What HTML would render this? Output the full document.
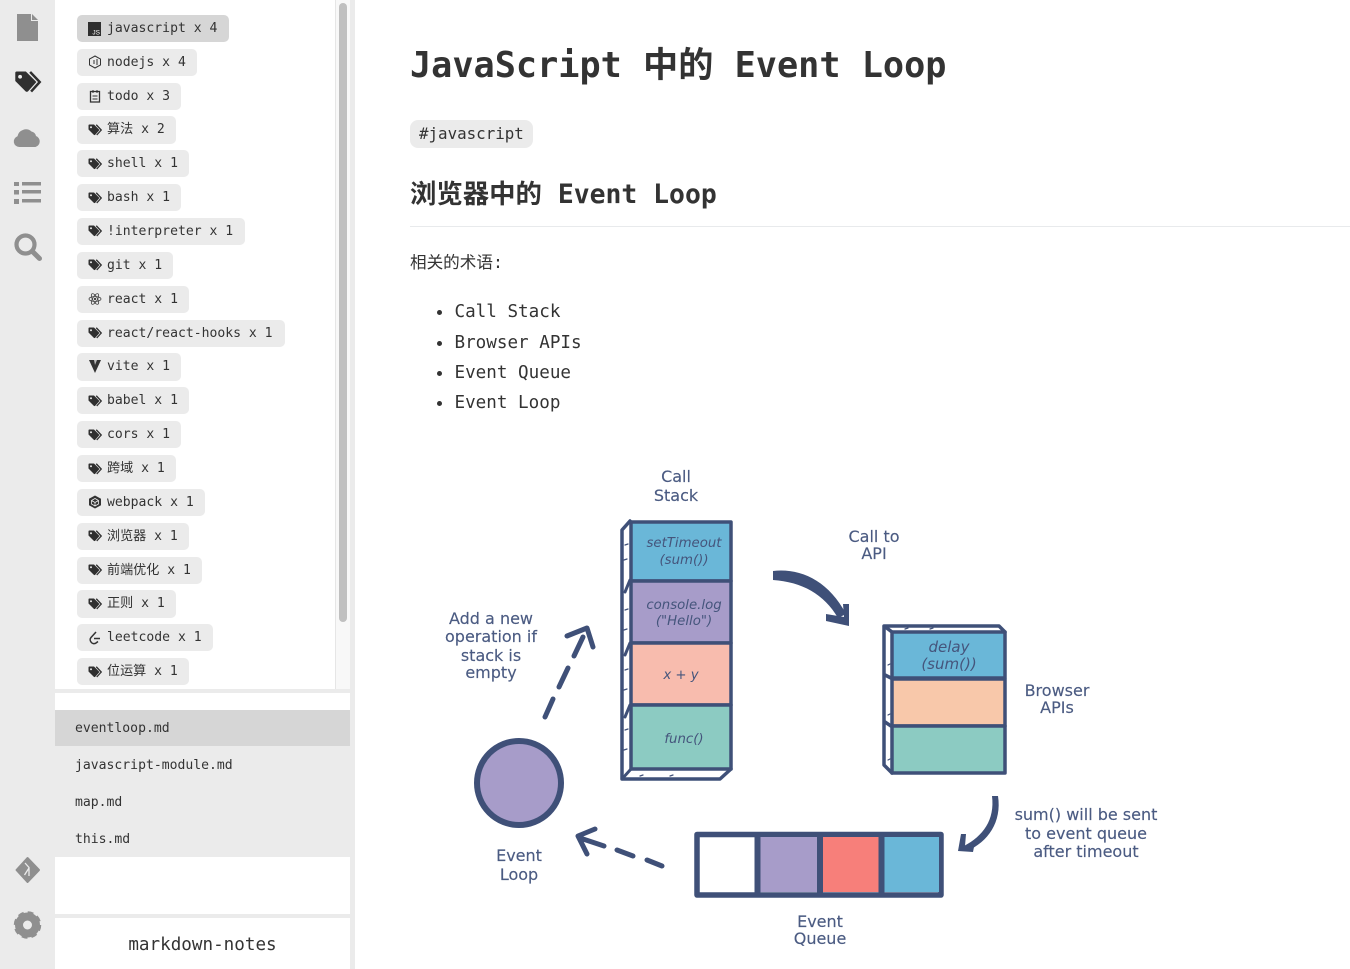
<!DOCTYPE html>
<html lang="zh"><head><meta charset="utf-8"><title>JavaScript 中的 Event Loop</title>
<style>
html,body{margin:0;padding:0;width:1350px;height:969px;overflow:hidden;background:#fff}
*{box-sizing:border-box}
body{font-family:"DejaVu Sans Mono","Noto Sans CJK SC",monospace;color:#333;position:relative}
.a{position:absolute}
.chip{position:absolute;left:77px;height:27px;background:#ebebeb;border-radius:5px;font-size:13.1px;line-height:27.500px;padding-left:30px;white-space:pre;color:#333}
.chip svg{position:absolute;left:11px;top:7px;width:14px;height:14px}
.f{position:absolute;left:75px;font-size:13.1px;line-height:20px;white-space:pre}
.li{position:absolute;left:454.500px;font-size:17.6px;line-height:24px;white-space:pre}
.dot{position:absolute;left:437px;width:5px;height:5px;border-radius:50%;background:#333}
#d{filter:blur(.35px)}
#d text{font-family:"DejaVu Sans",sans-serif;fill:#4b5b82;font-size:16px;text-anchor:middle;stroke:#4b5b82;stroke-width:.15}
#d text.i{font-style:italic;font-size:13.3px;fill:#45557c;stroke-width:0}
</style></head><body>
<svg width="0" height="0" style="position:absolute">
<symbol id="tag" viewBox="0 0 28 24"><path d="M1 2.500Q1 1 2.500 1H12L23 12 14.500 21.500Q13 23 11.500 21.500L1 11z" fill="currentColor"/><circle cx="6" cy="6.500" r="2" fill="#ebebeb"/><path d="M16.500 1.500L26.500 12 17.500 22" fill="none" stroke="currentColor" stroke-width="2.600"/></symbol>
</svg>
<div class="a" style="left:0;top:0;width:55px;height:969px;background:#ebebeb"></div>
<div class="a" style="left:350px;top:0;width:5px;height:969px;background:#ebebeb"></div>
<div class="a" style="left:335px;top:0;width:15px;height:689px;background:#f8f8f8;border-left:1px solid #e6e6e6"></div>
<div class="a" style="left:339px;top:3px;width:8px;height:619px;background:#c0c0c0;border-radius:4px"></div>
<div class="a" style="left:55px;top:689px;width:295px;height:4px;background:#ebebeb"></div>
<div class="a" style="left:55px;top:710px;width:295px;height:36px;background:#d6d6d6"></div>
<div class="a" style="left:55px;top:746px;width:295px;height:111px;background:#ebebeb"></div>
<div class="a" style="left:55px;top:914px;width:295px;height:4px;background:#ebebeb"></div>

<svg class="a" style="left:0;top:0" width="55" height="969">
<path d="M17 14h14v7h7v20H17z" fill="#8f8f8f"/><path d="M32 14l6 6h-6z" fill="#8f8f8f"/>
<g color="#2f2f2f"><use href="#tag" x="14" y="70.500" width="27.500" height="23"/></g>
<path d="M19.500 147a5.500 5.500 0 0 1-2-10.700 8.500 8.500 0 0 1 14-4.800 6 6 0 0 1 4.500 4.500 5.800 5.800 0 0 1-.5 11z" fill="#8f8f8f"/>
<g fill="#8f8f8f"><rect x="14" y="182" width="5" height="4"/><rect x="14" y="190" width="5" height="4.500"/><rect x="14" y="199" width="5" height="5"/><rect x="22" y="182" width="19" height="3.500"/><rect x="22" y="190" width="19" height="3.500"/><rect x="22" y="199" width="19" height="3.500"/></g>
<circle cx="25.500" cy="244.500" r="9" fill="none" stroke="#8f8f8f" stroke-width="4.200"/><path d="M33 252l6.500 6.500" stroke="#8f8f8f" stroke-width="5" stroke-linecap="round"/>
<path d="M27.500 858l11.500 12-11.500 12L16.500 870z" fill="#8f8f8f" stroke="#8f8f8f" stroke-linejoin="round" stroke-width="2"/><path d="M25 863l4 4.500v8.500M29 868l-4.500 7" stroke="#ebebeb" stroke-width="1.300" fill="none"/>
<circle cx="27.500" cy="925" r="8.500" fill="none" stroke="#8f8f8f" stroke-width="8"/><circle cx="27.500" cy="925" r="12" fill="none" stroke="#8f8f8f" stroke-width="3.500" stroke-dasharray="5.500 3.900"/>
</svg>

<div class="chip" style="top:15px;width:152px;background:#d6d6d6"><svg viewBox="0 0 14 14" style="top:7px"><rect width="13" height="14" fill="#2f2f2f"/><text x="12" y="12.500" text-anchor="end" font-size="6.500" fill="#fff" font-family="Liberation Sans">JS</text></svg>javascript x 4</div>
<div class="chip" style="top:49px;width:120px"><svg viewBox="0 0 14 14" style="top:6px"><path d="M7 1l5.500 3v6L7 13l-5.500-3V4z" fill="none" stroke="#333"/><path d="M6 5v4M8 5h2M8 7h2M8 9h2" stroke="#333"/></svg>nodejs x 4</div>
<div class="chip" style="top:83px;width:104px"><svg viewBox="0 0 14 14" style="top:6px"><rect x="2.500" y="2.500" width="9" height="10.500" fill="none" stroke="#333" stroke-width="1.300"/><path d="M5 1v3M9 1v3M4.500 7h5M4.500 10h5" stroke="#333"/></svg>todo x 3</div>
<div class="chip" style="top:116px;width:99px;height:28px"><svg style="color:#2f2f2f;top:7px"><use href="#tag" width="14" height="14"/></svg>算法 x 2</div>
<div class="chip" style="top:150px;width:112px"><svg style="color:#2f2f2f;top:7px"><use href="#tag" width="14" height="14"/></svg>shell x 1</div>
<div class="chip" style="top:184px;width:104px"><svg style="color:#2f2f2f;top:7px"><use href="#tag" width="14" height="14"/></svg>bash x 1</div>
<div class="chip" style="top:218px;width:168px"><svg style="color:#2f2f2f;top:6px"><use href="#tag" width="14" height="14"/></svg>!interpreter x 1</div>
<div class="chip" style="top:252px;width:96px"><svg style="color:#2f2f2f;top:6px"><use href="#tag" width="14" height="14"/></svg>git x 1</div>
<div class="chip" style="top:286px;width:112px"><svg viewBox="0 0 14 14" style="top:6px"><g fill="none" stroke="#444" stroke-width=".8"><ellipse cx="7" cy="7" rx="6" ry="2.400"/><ellipse cx="7" cy="7" rx="6" ry="2.400" transform="rotate(60 7 7)"/><ellipse cx="7" cy="7" rx="6" ry="2.400" transform="rotate(120 7 7)"/></g><circle cx="7" cy="7" r="1.200" fill="#444"/></svg>react x 1</div>
<div class="chip" style="top:320px;width:208px"><svg style="color:#2f2f2f;top:6px"><use href="#tag" width="14" height="14"/></svg>react/react-hooks x 1</div>
<div class="chip" style="top:353px;width:104px;height:28px"><svg viewBox="0 0 14 14" style="top:6px"><path d="M1 1h12L7 14z" fill="#333"/><path d="M6 1h3L7 6z" fill="#bbb"/></svg>vite x 1</div>
<div class="chip" style="top:387px;width:112px"><svg style="color:#2f2f2f;top:7px"><use href="#tag" width="14" height="14"/></svg>babel x 1</div>
<div class="chip" style="top:421px;width:104px"><svg style="color:#2f2f2f;top:7px"><use href="#tag" width="14" height="14"/></svg>cors x 1</div>
<div class="chip" style="top:455px;width:99px"><svg style="color:#2f2f2f;top:7px"><use href="#tag" width="14" height="14"/></svg>跨域 x 1</div>
<div class="chip" style="top:489px;width:128px"><svg viewBox="0 0 14 14" style="top:6px"><path d="M7 .5l6 3.300v6.400L7 13.500 1 10.200V3.800z" fill="#333"/><path d="M7 3.500l3.500 2v3.500L7 11l-3.500-2V5.500zM7 7.500v3.500M7 7.500L3.500 5.500M7 7.500l3.500-2" fill="none" stroke="#ebebeb" stroke-width=".8"/></svg>webpack x 1</div>
<div class="chip" style="top:523px;width:112px"><svg style="color:#2f2f2f;top:6px"><use href="#tag" width="14" height="14"/></svg>浏览器 x 1</div>
<div class="chip" style="top:557px;width:125px"><svg style="color:#2f2f2f;top:6px"><use href="#tag" width="14" height="14"/></svg>前端优化 x 1</div>
<div class="chip" style="top:590px;width:99px;height:28px"><svg style="color:#2f2f2f;top:7px"><use href="#tag" width="14" height="14"/></svg>正则 x 1</div>
<div class="chip" style="top:624px;width:136px"><svg viewBox="0 0 14 14" style="top:7px"><path d="M8 1L3 6.500a3.500 3.500 0 0 0 0 4.500 3.500 3.500 0 0 0 5 1l2-1.500M6 7.500h6" fill="none" stroke="#333" stroke-width="1.500"/></svg>leetcode x 1</div>
<div class="chip" style="top:658px;width:112px"><svg style="color:#2f2f2f;top:7px"><use href="#tag" width="14" height="14"/></svg>位运算 x 1</div>

<div class="f" style="top:719px">eventloop.md</div>
<div class="f" style="top:756px">javascript-module.md</div>
<div class="f" style="top:793px">map.md</div>
<div class="f" style="top:830px">this.md</div>
<div class="a" style="left:55px;top:933px;width:295px;text-align:center;font-size:17.6px;line-height:24px">markdown-notes</div>

<div class="a" style="left:410px;top:43px;font-size:35.2px;line-height:46px;font-weight:bold;white-space:pre">JavaScript 中的 Event Loop</div>
<div class="a" style="left:410px;top:120px;width:123px;height:28px;background:#ebebeb;border-radius:8px;font-size:15.840px;line-height:27px;padding-left:9px">#javascript</div>
<div class="a" style="left:410px;top:177px;font-size:26.4px;line-height:36px;font-weight:bold;white-space:pre">浏览器中的 Event Loop</div>
<div class="a" style="left:410px;top:226px;width:940px;height:1px;background:#e8eaec"></div>
<div class="a" style="left:410px;top:251px;font-size:16.600px;line-height:24px;white-space:pre">相关的术语:</div>
<div class="dot" style="top:310px"></div><div class="li" style="top:300px">Call Stack</div>
<div class="dot" style="top:341px"></div><div class="li" style="top:331px">Browser APIs</div>
<div class="dot" style="top:371px"></div><div class="li" style="top:361px">Event Queue</div>
<div class="dot" style="top:401px"></div><div class="li" style="top:391px">Event Loop</div>

<svg id="d" class="a" style="left:0;top:0" width="1350" height="969" fill="none" stroke-linecap="round" stroke-linejoin="round">
<g stroke="#3f5078">
<!-- call stack -->
<path d="M630 521L622 530V779H720L731 769" stroke-width="3.500"/>
<path d="M625 592l5-12M625 655l5-12M625 717l5-12M622 779l9-10" stroke-width="3"/>
<path d="M625 545l3-1M624 560l3-1M625 610l3-1M624 630l3-1M625 670l3-1M624 690l3-1M625 730l3-1M624 750l3-1M640 776l3-1M670 776l3-1" stroke-width="1.200"/>
<rect x="631" y="522" width="100" height="59" fill="#6ab7d8" stroke-width="3.500"/>
<rect x="631" y="581" width="100" height="62" fill="#a79cc9" stroke-width="3.500"/>
<rect x="631" y="643" width="100" height="62" fill="#f8bcae" stroke-width="3.500"/>
<rect x="631" y="705" width="100" height="64" fill="#8ccbc2" stroke-width="3.500"/>
<!-- browser -->
<path d="M892 632L884 626H999L1005 632M884 626V765L892 773" stroke-width="3.500"/>
<path d="M885 675l6 3M885 722l6 4" stroke-width="3.500"/>
<path d="M888 665l2-1M888 715l2-1M888 760l2-1M905 629l3-1M930 629l3-1" stroke-width="1.200"/>
<rect x="892" y="632" width="113" height="46" fill="#6ab7d8" stroke-width="3.500"/>
<rect x="892" y="679" width="113" height="47" fill="#f8c8aa" stroke-width="3.500"/>
<rect x="892" y="726" width="113" height="47" fill="#8ccbc2" stroke-width="3.500"/>
<!-- queue -->
<rect x="697" y="834.500" width="244" height="60.500" fill="#fff" stroke-width="5.500"/>
<rect x="760" y="837" width="58" height="55" fill="#a79cc9" stroke="none"/>
<rect x="822" y="837" width="58" height="55" fill="#f77f7a" stroke="none"/>
<rect x="883" y="837" width="56" height="55" fill="#6ab7d8" stroke="none"/>
<path d="M757.500 835v59M820 835v59M881.500 835v59" stroke-width="6" stroke-linecap="butt"/>
<!-- circle -->
<circle cx="519" cy="783" r="42" fill="#a79cc9" stroke-width="6"/>
<!-- dashed up -->
<path d="M545 717L553 699M559 687L568 668M574 656L583 637M567 636L587 628L593 647" stroke-width="5"/>
<!-- dashed left -->
<path d="M580 838L604 846M617 850L633 856M647 860L662 866M595 829L578 836L587 854" stroke-width="5"/>
</g>
<!-- call api: tapered body and solid head -->
<path d="M773 571C800 568 828 580 846 614L838 618C824 594 802 582 773 580Z" fill="#3f5078"/>
<path d="M826 614L844 617 843 604 849 604 849 626 826 621Z" fill="#3f5078"/>
<!-- sum arrow -->
<path d="M992 796L998 796C1002 822 988 842 967 851L964 846C983 836 995 820 992 796Z" fill="#3f5078"/>
<path d="M961 834L966 834 965 846 974 847 973 852 958 851Z" fill="#3f5078"/>
<g>
<text x="676" y="482">Call</text><text x="676" y="501">Stack</text>
<text x="874" y="542">Call to</text><text x="874" y="559">API</text>
<text x="491" y="624">Add a new</text><text x="491" y="642">operation if</text><text x="491" y="661">stack is</text><text x="491" y="678">empty</text>
<text x="1057" y="696">Browser</text><text x="1057" y="713">APIs</text>
<text x="1086" y="820">sum() will be sent</text><text x="1086" y="839">to event queue</text><text x="1086" y="857">after timeout</text>
<text x="519" y="861">Event</text><text x="519" y="880">Loop</text>
<text x="820" y="927">Event</text><text x="820" y="944">Queue</text>
<text class="i" x="684" y="547">setTimeout</text><text class="i" x="684" y="564">(sum())</text>
<text class="i" x="684" y="609">console.log</text><text class="i" x="684" y="625">("Hello")</text>
<text class="i" x="681" y="679">x + y</text>
<text class="i" x="684" y="743">func()</text>
<text class="i" x="949" y="652" style="font-size:15px">delay</text><text class="i" x="949" y="669" style="font-size:15px">(sum())</text>
</g>
</svg>
</body></html>
